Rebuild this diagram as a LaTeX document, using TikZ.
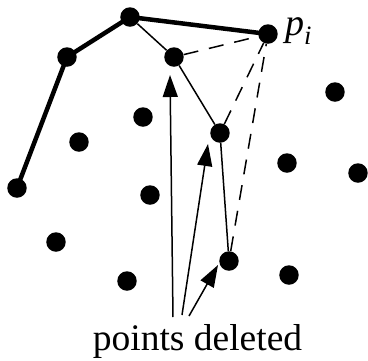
\documentclass[tikz,border=0pt]{standalone}
\usepackage{fontspec}
\setmainfont{Liberation Serif}
\usetikzlibrary{arrows.meta}
\begin{document}
\begin{tikzpicture}[x=1pt,y=-1pt,
  dot/.style={circle,fill=black,inner sep=0pt,minimum size=19.5pt},
  hull/.style={line width=4.5pt,line join=round},
  chainline/.style={line width=1.5pt},
  dashline/.style={line width=1.5pt,dash pattern=on 15pt off 11pt},
  pointer/.style={line width=1.5pt,-{Triangle[length=22pt,width=15pt]}}]
\useasboundingbox (0,0) rectangle (368,360);
% points
\node[dot] (h1) at (17,188) {};
\node[dot] (h2) at (67,57) {};
\node[dot] (h3) at (130,17) {};
\node[dot] (pi) at (268,34) {};
\node[dot] (b) at (174,57) {};
\node[dot] (c) at (220,133) {};
\node[dot] (d) at (229,261) {};
\node[dot] (q1) at (143,117) {};
\node[dot] (q2) at (79,142) {};
\node[dot] (q3) at (335,92) {};
\node[dot] (q4) at (287,163) {};
\node[dot] (q5) at (358,173) {};
\node[dot] (q6) at (150,195) {};
\node[dot] (q7) at (56,242) {};
\node[dot] (q8) at (127,281) {};
\node[dot] (q9) at (289,275) {};
% hull
\draw[hull] (h1.center) -- (h2.center) -- (h3.center) -- (pi.center);
% deleted chain
\draw[chainline] (h3) -- (b) -- (c) -- (d);
% dashed
\draw[dashline] (b) -- (pi);
\draw[dashline] (c) -- (pi);
\draw[dashline] (d) -- (pi);
% label
\node[anchor=base west,inner sep=0pt] (plabel) at (285,35) {\fontsize{38}{38}\selectfont\textit{p}\textsubscript{\textit{i}}};
\node[anchor=base,inner sep=0pt] (txt) at (197.5,350) {\fontsize{37.5}{37.5}\selectfont points deleted};
% arrows
\coordinate (s1) at (173,317);
\coordinate (s2) at (182,315);
\coordinate (s3) at (189,316);
\coordinate (t1) at (170,75);
\coordinate (t2) at (208,144);
\coordinate (t3) at (218,265);
\draw[pointer] (s1) -- (t1);
\draw[pointer] (s2) -- (t2);
\draw[pointer] (s3) -- (t3);
\end{tikzpicture}
\end{document}
